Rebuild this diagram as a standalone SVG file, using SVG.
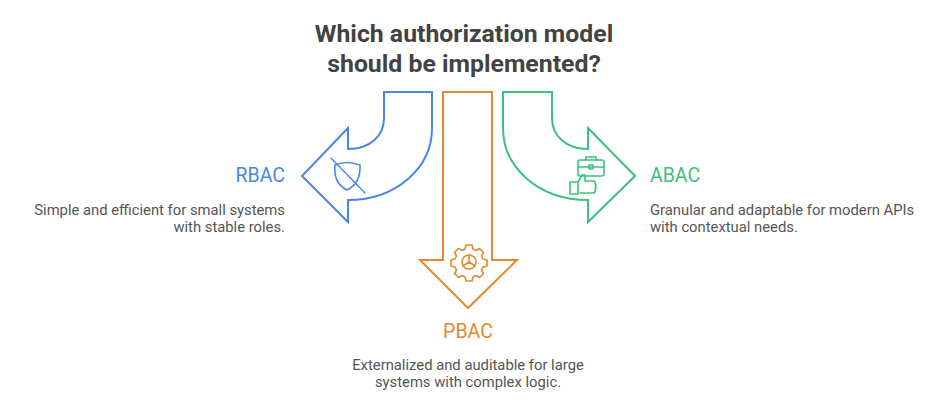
<svg xmlns="http://www.w3.org/2000/svg" width="948" height="404" viewBox="0 0 948 404">
<style>
text{font-family:Roboto,"Liberation Sans",sans-serif}
.t{font-size:24.8px;font-weight:bold;fill:#434343}
.h{font-size:19.5px}
.b{font-size:14.8px;fill:#555}
.sh{fill:none;stroke-width:2;stroke-linejoin:miter}
.ic{fill:none;stroke-width:1.6;stroke-linecap:round;stroke-linejoin:round}
</style>
<rect width="948" height="404" fill="#fff"/>
<g id="title"><text class="t" x="464" y="42" text-anchor="middle">Which authorization model</text><text class="t" x="464" y="72" text-anchor="middle">should be implemented?</text></g>
<g id="connectors">
<path class="sh" stroke="#4a86e8" d="M384,92 H432 V128 C432,168 396,200 348,200 V222 L302,176 L348,128 V149 C370,149 384,136 384,118 Z"/>
<path class="sh" stroke="#e3892f" d="M443,92 H492 V260 H517 L468,308 L420,260 H443 Z"/>
<path class="sh" stroke="#3cc17a" d="M552,92 H503 V128 C503,168 539,200 588,200 V222 L635,176 L588,128 V149 C566,149 552,136 552,118 Z"/>
</g>
<g id="rbac">
<g class="ic" stroke="#4a86e8"><path d="M335,165 Q347,160 360,165 Q361,183 347,190 Q333,183 335,165 Z"/><path d="M331,158 L365,193" stroke-width="1.4"/></g>
<text class="h" x="285" y="182" text-anchor="end" fill="#4a86e8">RBAC</text>
<text class="b" x="285" y="215" text-anchor="end">Simple and efficient for small systems</text>
<text class="b" x="285" y="232" text-anchor="end">with stable roles.</text>
</g>
<g id="pbac">
<g class="ic" stroke="#e3892f"><circle cx="469" cy="262" r="7"/><path d="M469,262 V255 M469,262 L463,266 M469,262 L475,266"/>
<path d="M466,245 h6 l1,4 l3,1.5 l3.5,-2 l4,4 l-2,3.5 l1.5,3 l4,1 v6 l-4,1 l-1.5,3 l2,3.5 l-4,4 l-3.5,-2 l-3,1.5 l-1,4 h-6 l-1,-4 l-3,-1.5 l-3.5,2 l-4,-4 l2,-3.5 l-1.5,-3 l-4,-1 v-6 l4,-1 l1.5,-3 l-2,-3.5 l4,-4 l3.5,2 l3,-1.5 z"/></g>
<text class="h" x="468" y="338" text-anchor="middle" fill="#e3892f">PBAC</text>
<text class="b" x="468" y="370" text-anchor="middle">Externalized and auditable for large</text>
<text class="b" x="468" y="387" text-anchor="middle">systems with complex logic.</text>
</g>
<g id="abac">
<g class="ic" stroke="#3cc17a"><rect x="578" y="160" width="26" height="16" rx="2"/><path d="M586,160 v-3 h10 v3 M578,167 h26 M589,165 h4 v4 h-4 z"/>
<path d="M570,182 h8 v12 h-8 z M578,182 l4,-7 h3 v6 h8 q3,0 2,3 q2,1 0,3 q2,1 0,3 q1,3 -2,3 h-13"/></g>
<text class="h" x="650" y="182" fill="#3cc17a">ABAC</text>
<text class="b" x="650" y="215">Granular and adaptable for modern APIs</text>
<text class="b" x="650" y="232">with contextual needs.</text>
</g>
</svg>
